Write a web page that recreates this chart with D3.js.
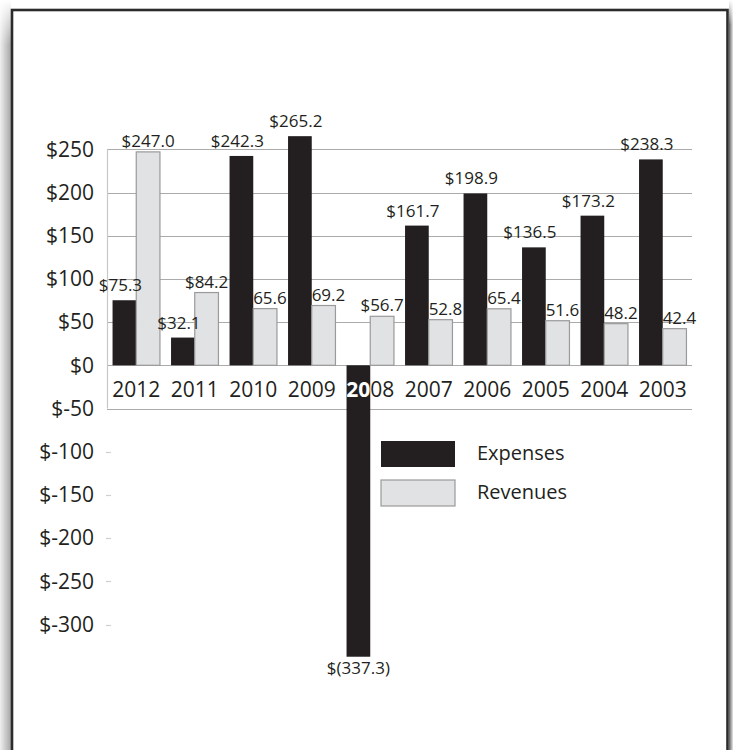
<!DOCTYPE html>
<html>
<head>
<meta charset="utf-8">
<script src="https://cdn.jsdelivr.net/npm/d3@7"></script>
<style>
  html, body { margin: 0; padding: 0; background: #fff; }
  svg { display: block; }
  text { font-family: "Open Sans", "Noto Sans", sans-serif; fill: #231f20; }
</style>
</head>
<body>
<svg id="chart" width="733" height="750"></svg>
<script>
// ---- data ----
const years = ["2012","2011","2010","2009","2008","2007","2006","2005","2004","2003"];
const expenses = [75.3, 32.1, 242.3, 265.2, -337.3, 161.7, 198.9, 136.5, 173.2, 238.3];
const revenues = [247.0, 84.2, 65.6, 69.2, 56.7, 52.8, 65.4, 51.6, 48.2, 42.4];
const seriesNames = ["Expenses", "Revenues"];
const yTicks = [250, 200, 150, 100, 50, 0, -50, -100, -150, -200, -250, -300];

// ---- setup ----
const W = 733, H = 750;
const svg = d3.select("#chart");
const defs = svg.append("defs");

const colors = { Expenses: "#231f20", Revenues: "#e1e2e4" };

// frame shadows (1px strips)
const leftShade = d3.scaleLinear().domain([0, 10]).range(["#ececec", "#a9a9a9"]);
svg.append("g").selectAll("rect").data(d3.range(0, 11)).join("rect")
  .attr("x", d => d).attr("y", 0).attr("width", 1).attr("height", H)
  .attr("fill", d => leftShade(d));
const rightShade = d3.scaleLinear().domain([729, 732]).range(["#6e6e6e", "#d6d6d6"]);
svg.append("g").selectAll("rect").data(d3.range(729, 733)).join("rect")
  .attr("x", d => d).attr("y", 0).attr("width", 1).attr("height", H)
  .attr("fill", d => rightShade(d));
const gt = defs.append("linearGradient").attr("id", "fadeTop").attr("x1", 0).attr("x2", 0).attr("y1", 0).attr("y2", 1);
gt.append("stop").attr("offset", "0%").attr("stop-color", "#fff").attr("stop-opacity", 1);
gt.append("stop").attr("offset", "100%").attr("stop-color", "#fff").attr("stop-opacity", 0);
svg.append("rect").attr("x", 0).attr("y", 0).attr("width", 11).attr("height", 45).attr("fill", "url(#fadeTop)");
svg.append("rect").attr("x", 729).attr("y", 0).attr("width", 4).attr("height", 25).attr("fill", "url(#fadeTop)");
svg.append("line").attr("x1", 13).attr("x2", 727).attr("y1", 749).attr("y2", 749)
  .attr("stroke", "#dcdcdc").attr("stroke-width", 2);
// frame
svg.append("rect").attr("x", 12).attr("y", 10).attr("width", 715.5).attr("height", 760)
  .attr("fill", "#fff").attr("stroke", "#2b2b2b").attr("stroke-width", 2.6);

// ---- scales ----
const x = d3.scaleBand().domain(years).range([107, 692]).padding(0);
const xs = d3.scaleBand().domain(seriesNames).range([0, x.bandwidth()]).paddingInner(0).paddingOuter(0.234);
const y = d3.scaleLinear().domain([-350, 300]).range([667.7, 106.1]);

const rows = years.map((yr, i) => ({ year: yr, values: [
  { key: "Expenses", value: expenses[i] },
  { key: "Revenues", value: revenues[i] }
]}));

// ---- gridlines (250 .. -50) ----
const gridTicks = yTicks.filter(v => v >= -50);
svg.append("g").selectAll("line").data(gridTicks).join("line")
  .attr("x1", 107).attr("x2", 692)
  .attr("y1", d => Math.round(y(d)) + 0.5).attr("y2", d => Math.round(y(d)) + 0.5)
  .attr("stroke", "#ababab").attr("stroke-width", 1.2);
// vertical axis line
svg.append("line").attr("x1", 107.5).attr("x2", 107.5)
  .attr("y1", y(250)).attr("y2", y(-50))
  .attr("stroke", "#c8c8c8").attr("stroke-width", 1.2);
// short ticks for the lower part
svg.append("g").selectAll("line").data(yTicks.filter(v => v < -50)).join("line")
  .attr("x1", 106).attr("x2", 111)
  .attr("y1", d => Math.round(y(d)) + 0.5).attr("y2", d => Math.round(y(d)) + 0.5)
  .attr("stroke", "#cfcfcf").attr("stroke-width", 1.2);

// ---- y axis labels ----
const yAxis = d3.axisLeft(y).tickValues(yTicks).tickSize(0).tickPadding(13)
  .tickFormat(d => "$" + d);
const gy = svg.append("g").attr("transform", "translate(107,0)").call(yAxis);
gy.select(".domain").remove();
gy.selectAll("text").attr("font-size", 21).attr("font-family", "Open Sans, sans-serif").attr("fill", "#231f20");

// ---- x axis labels (dark) ----
const xAxis = d3.axisBottom(x).tickSize(0).tickPadding(0);
const gx = svg.append("g").attr("transform", `translate(0,${y(0)})`).call(xAxis);
gx.select(".domain").remove();
gx.selectAll("text").attr("font-size", 21).attr("font-family", "Open Sans, sans-serif")
  .attr("fill", "#231f20").attr("dy", null).attr("y", 32);

// ---- bars ----
const groups = svg.append("g").selectAll("g").data(rows).join("g")
  .attr("transform", d => `translate(${x(d.year)},0)`);

groups.selectAll("rect").data(d => d.values).join("rect")
  .attr("x", d => xs(d.key))
  .attr("width", xs.bandwidth())
  .attr("y", d => d.value >= 0 ? y(d.value) : y(0))
  .attr("height", d => Math.abs(y(d.value) - y(0)))
  .attr("fill", d => colors[d.key])
  .attr("stroke", d => d.key === "Revenues" ? "#9a9a9a" : "none")
  .attr("stroke-width", 1.2);

// white overlay of x labels where they cross a negative bar
rows.forEach((r, i) => {
  r.values.forEach(v => {
    if (v.value < 0) {
      const id = "clip" + i + v.key;
      defs.append("clipPath").attr("id", id).append("rect")
        .attr("x", x(r.year) + xs(v.key)).attr("width", xs.bandwidth())
        .attr("y", y(0)).attr("height", y(v.value) - y(0));
      svg.append("text").attr("clip-path", `url(#${id})`)
        .attr("x", x(r.year) + x.bandwidth() / 2).attr("y", y(0) + 32)
        .attr("text-anchor", "middle").attr("font-size", 21)
        .style("fill", "#fff").attr("font-weight", "bold")
        .text(r.year);
    }
  });
});

// ---- value labels ----
const fmt = v => v < 0 ? "$(" + Math.abs(v).toFixed(1) + ")" : "$" + v.toFixed(1);
groups.selectAll("text.val").data(d => d.values).join("text")
  .attr("class", "val")
  .attr("x", d => xs(d.key) + xs.bandwidth() / 2 + (d.key === "Expenses" && d.value >= 0 ? -4 : 0))
  .attr("y", d => d.value >= 0 ? y(d.value) - (d.key === "Expenses" ? 9 : 5) : y(d.value) + 17)
  .attr("text-anchor", "middle")
  .attr("font-size", 17)
  .text(d => fmt(d.value));

// ---- legend ----
const lg = svg.append("g").attr("transform", "translate(381,441)");
const li = lg.selectAll("g").data(seriesNames).join("g")
  .attr("transform", (d, i) => `translate(0,${i * 39})`);
li.append("rect").attr("width", 74).attr("height", 26)
  .attr("fill", d => colors[d])
  .attr("stroke", d => d === "Revenues" ? "#9a9a9a" : "none").attr("stroke-width", 1.2);
li.append("text").attr("x", 96).attr("y", 19).attr("font-size", 20).text(d => d);
</script>
</body>
</html>
